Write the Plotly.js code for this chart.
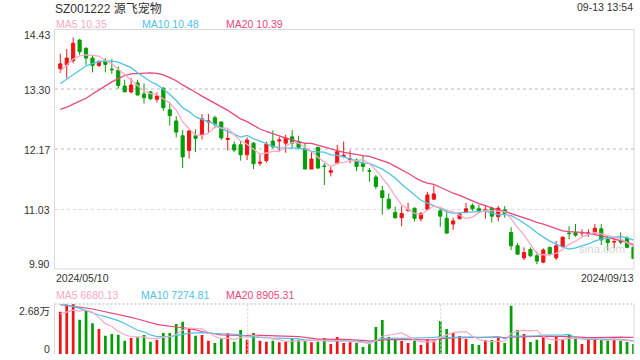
<!DOCTYPE html>
<html>
<head>
<meta charset="utf-8">
<script src="https://cdn.plot.ly/plotly-3.0.1.min.js"></script>
<style>
  html, body { margin: 0; padding: 0; background: #fff; }
  #chart { width: 640px; height: 360px; }
</style>
</head>
<body>
<div id="chart"></div>
<script>
// ---- data ----
const xLabels = ['2024/05/10', '2024/09/13'];
const yTickVals = [14.43, 13.30, 12.17, 11.03, 9.90];
const yTickText = ['14.43', '13.30', '12.17', '11.03', '9.90'];
const volTickText = ['2.68万', '0'];
const volMax = 26800;

const open = [13.69,13.76,13.84,14.23,14.07,13.89,13.75,13.84,13.68,13.66,
13.36,13.25,13.42,13.21,13.25,13.11,13.32,12.91,12.70,12.42,
12.14,12.42,12.44,12.68,12.76,12.68,12.35,12.25,12.25,12.06,
12.28,11.90,11.95,12.32,12.32,12.28,12.40,12.31,12.18,11.79,
12.20,11.85,11.73,11.90,12.03,11.97,11.96,11.90,11.76,11.64,
11.38,11.22,10.97,10.87,11.01,11.05,10.85,11.03,11.22,11.00,
10.86,10.75,10.85,10.97,11.10,11.04,11.01,11.05,10.89,11.02,
10.59,10.34,10.11,10.27,10.15,10.03,10.31,10.11,10.32,10.58,
10.59,10.58,10.57,10.58,10.66,10.46,10.41,10.42,10.48,10.31];

const high = [13.97,14.06,14.28,14.25,14.10,13.95,13.85,13.89,13.87,13.73,
13.48,13.51,13.48,13.41,13.27,13.24,13.34,13.06,12.79,12.53,
12.54,12.54,12.83,12.83,12.80,12.69,12.54,12.31,12.33,12.39,
12.30,12.08,12.31,12.52,12.40,12.44,12.53,12.42,12.29,12.11,
12.21,11.90,11.84,12.25,12.31,12.14,11.99,12.04,11.81,11.68,
11.47,11.33,11.08,11.09,11.15,11.06,10.98,11.36,11.48,11.05,
11.02,10.87,10.97,11.15,11.14,11.11,11.10,11.08,11.09,11.09,
10.69,10.39,10.31,10.31,10.23,10.29,10.32,10.43,10.52,10.71,
10.75,10.65,10.65,10.75,10.75,10.54,10.49,10.59,10.52,10.35];

const low = [13.61,13.51,13.79,13.95,13.76,13.62,13.72,13.62,13.59,13.31,
13.25,13.22,13.19,13.03,13.10,13.05,12.89,12.61,12.39,11.81,
11.99,12.11,12.35,12.48,12.56,12.34,12.14,12.11,11.95,11.96,
11.79,11.85,11.91,12.18,12.11,12.10,12.18,12.16,11.79,11.79,
11.79,11.49,11.65,11.88,12.01,11.90,11.75,11.74,11.55,11.41,
10.93,11.02,10.85,10.71,10.98,10.80,10.80,11.02,11.22,10.70,
10.56,10.64,10.84,10.95,11.00,10.95,10.85,10.78,10.80,10.87,
10.26,10.17,10.07,10.13,9.99,10.01,10.15,10.07,10.32,10.46,
10.51,10.52,10.51,10.56,10.35,10.25,10.29,10.37,10.29,10.09];

const close = [13.78,13.89,14.17,14.01,13.89,13.75,13.82,13.77,13.67,13.37,
13.25,13.38,13.19,13.14,13.12,13.17,12.95,12.80,12.49,12.02,
12.51,12.37,12.74,12.70,12.64,12.38,12.37,12.15,12.06,12.34,
11.89,11.92,12.26,12.21,12.34,12.38,12.28,12.20,11.79,11.98,
11.81,11.84,11.76,12.12,12.05,11.98,11.84,11.84,11.75,11.46,
11.25,11.05,10.87,10.95,11.02,10.86,10.95,11.30,11.32,10.90,
10.58,10.81,10.94,11.04,11.04,11.00,11.02,10.90,11.05,10.95,
10.34,10.18,10.21,10.15,10.05,10.26,10.18,10.34,10.50,10.57,
10.54,10.59,10.58,10.67,10.45,10.40,10.42,10.41,10.31,10.10];

const volume = [22691,26800,26800,18403,23227,16438,13400,9827,10720,10363,
7147,8576,8933,10184,6611,7683,11256,11256,16080,17331,
13757,9827,10184,7147,5896,8040,11077,6611,12864,7683,
11256,7147,6611,7147,6253,6611,8040,7683,7147,6253,
6611,8576,5360,9112,5896,6253,5896,3752,5360,14472,
18224,9112,7683,6968,5896,7147,4824,7683,7147,17688,
13400,11256,9648,8040,5360,4824,7325,7504,8576,5896,
25907,12864,10720,6432,7683,8933,5360,9469,7683,10363,
8933,5360,7683,8576,7683,7147,7683,7147,6432,5360];

// moving-average values before enough in-window history exists
const ma5Head  = [13.64,13.76,13.87,13.93];
const ma10Head = [13.41,13.49,13.57,13.66,13.74,13.79,13.82,13.83,13.83];
const ma20Head = [12.92,12.96,13.02,13.08,13.13,13.21,13.29,13.36,13.44,13.50,
                  13.56,13.59,13.60,13.61,13.61,13.60,13.57,13.52,13.46];
const vma5Head  = [21500,22500,23500,23000];
const vma10Head = [26800,26264,25550,24478,23227,21976,20904,20011,19118];
const vma20Head = [26443,26086,25550,25192,24656,24120,23406,22870,22155,21440,
                   20726,19654,18760,17688,16795,15902,15366,14830,14472];

// ---- helpers ----
function sma(arr, n, head) {
  return arr.map((v, i) => {
    if (i < n - 1) return head[i];
    let s = 0;
    for (let k = i - n + 1; k <= i; k++) s += arr[k];
    return s / n;
  });
}
const idx = close.map((_, i) => i);
const UP = '#f01414', DOWN = '#069e06';
const C5 = '#f7a9c7', C10 = '#4ec3e8', C20 = '#e9467d';
const FONT = 'Liberation Sans, Arial, Noto Sans CJK SC, sans-serif';

const ma5 = sma(close, 5, ma5Head), ma10 = sma(close, 10, ma10Head), ma20 = sma(close, 20, ma20Head);
const vma5 = sma(volume, 5, vma5Head), vma10 = sma(volume, 10, vma10Head), vma20 = sma(volume, 20, vma20Head);
const volColors = close.map((c, i) => c >= open[i] ? UP : DOWN);

const traces = [
  {type: 'candlestick', x: idx, open: open, high: high, low: low, close: close,
   increasing: {line: {color: UP, width: 1}, fillcolor: UP},
   decreasing: {line: {color: DOWN, width: 1}, fillcolor: DOWN},
   whiskerwidth: 0, xaxis: 'x', yaxis: 'y', hoverinfo: 'skip'},
  {type: 'scatter', mode: 'lines', x: idx, y: ma20, line: {color: C20, width: 1.3}, xaxis: 'x', yaxis: 'y', hoverinfo: 'skip'},
  {type: 'scatter', mode: 'lines', x: idx, y: ma10, line: {color: C10, width: 1.3}, xaxis: 'x', yaxis: 'y', hoverinfo: 'skip'},
  {type: 'scatter', mode: 'lines', x: idx, y: ma5, line: {color: C5, width: 1.3}, xaxis: 'x', yaxis: 'y', hoverinfo: 'skip'},
  {type: 'bar', x: idx, y: volume, width: 0.42, marker: {color: volColors, line: {width: 0}}, xaxis: 'x2', yaxis: 'y2', hoverinfo: 'skip'},
  {type: 'scatter', mode: 'lines', x: idx, y: vma20, line: {color: C20, width: 1.2}, xaxis: 'x2', yaxis: 'y2', hoverinfo: 'skip'},
  {type: 'scatter', mode: 'lines', x: idx, y: vma10, line: {color: C10, width: 1.2}, xaxis: 'x2', yaxis: 'y2', hoverinfo: 'skip'},
  {type: 'scatter', mode: 'lines', x: idx, y: vma5, line: {color: C5, width: 1.2}, xaxis: 'x2', yaxis: 'y2', hoverinfo: 'skip'}
];

const PX = v => v / 640, PY = v => 1 - v / 360;
const xd = [PX(54.5), PX(634)];
const xr = [-0.9, 89.08];

function ann(text, x, y, xanchor, color, size) {
  return {text: text, x: PX(x), y: PY(y), xref: 'paper', yref: 'paper', xanchor: xanchor, yanchor: 'middle',
          showarrow: false, font: {family: FONT, size: size, color: color}, borderpad: 0};
}

const annotations = [
  ann('SZ001222 源飞宠物', 54, 8.5, 'left', '#333', 12),
  ann('09-13 13:54', 634, 6.5, 'right', '#333', 10.5),
  ann('MA5 10.35', 54.5, 24, 'left', C5, 10.5),
  ann('MA10 10.48', 140.5, 24, 'left', C10, 10.5),
  ann('MA20 10.39', 225, 24, 'left', C20, 10.5),
  ann(yTickText[0], 50.5, 35.3, 'right', '#333', 10.5),
  ann(yTickText[1], 50.5, 89.5, 'right', '#333', 10.5),
  ann(yTickText[2], 50.5, 149.5, 'right', '#333', 10.5),
  ann(yTickText[3], 50.5, 209.5, 'right', '#333', 10.5),
  ann(yTickText[4], 50.5, 263.5, 'right', '#333', 10.5),
  ann(xLabels[0], 54.5, 278, 'left', '#333', 10.5),
  ann(xLabels[1], 634.5, 278, 'right', '#333', 10.5),
  ann('MA5 6680.13', 54.5, 294.5, 'left', C5, 10.5),
  ann('MA10 7274.81', 140, 294.5, 'left', C10, 10.5),
  ann('MA20 8905.31', 225, 294.5, 'left', C20, 10.5),
  ann(volTickText[0], 50.5, 311, 'right', '#333', 10.5),
  ann(volTickText[1], 50.5, 349, 'right', '#333', 10.5),
  ann('sina.com', 602, 249, 'center', '#d6d6d6', 11.5)
];

const grey = '#d9d9d9';
const shapes = [
  {type: 'rect', xref: 'paper', yref: 'paper', x0: xd[0], x1: xd[1], y0: PY(269), y1: PY(29.5), line: {color: grey, width: 1}},
  {type: 'line', xref: 'paper', yref: 'paper', x0: xd[0], x1: xd[0], y0: PY(354.5), y1: PY(304), line: {color: grey, width: 1}},
  {type: 'line', xref: 'paper', yref: 'paper', x0: xd[1], x1: xd[1], y0: PY(354.5), y1: PY(304), line: {color: grey, width: 1}},
  {type: 'line', xref: 'paper', yref: 'paper', x0: xd[0], x1: xd[1], y0: PY(304), y1: PY(304), line: {color: '#cfcfcf', width: 1.3, dash: '2px,2px'}},
  {type: 'line', xref: 'paper', yref: 'paper', x0: PX(247.7), x1: PX(247.7), y0: PY(354.5), y1: PY(304), line: {color: '#cfcfcf', width: 1, dash: '2px,2px'}},
  {type: 'line', xref: 'paper', yref: 'paper', x0: PX(440.7), x1: PX(440.7), y0: PY(354.5), y1: PY(304), line: {color: '#cfcfcf', width: 1, dash: '2px,2px'}}
];

const layout = {
  width: 640, height: 360,
  margin: {l: 0, r: 0, t: 0, b: 0},
  paper_bgcolor: '#fff', plot_bgcolor: 'rgba(0,0,0,0)',
  showlegend: false,
  xaxis: {domain: xd, range: xr, anchor: 'y', showgrid: false, zeroline: false, showticklabels: false,
          showline: false, ticks: '', rangeslider: {visible: false}, fixedrange: true},
  yaxis: {domain: [PY(269), PY(29.5)], range: [yTickVals[4], yTickVals[0]], anchor: 'x',
          tickvals: yTickVals.slice(1, 4), showticklabels: false, ticks: '',
          showgrid: true, gridcolor: '#dcdcdc', gridwidth: 1.5, griddash: '3px,3px',
          zeroline: false, showline: false, fixedrange: true},
  xaxis2: {domain: xd, range: xr, anchor: 'y2', showgrid: false, zeroline: false, showticklabels: false,
           showline: false, ticks: '', fixedrange: true},
  yaxis2: {domain: [PY(354), PY(304)], range: [0, volMax], anchor: 'x2', showgrid: false, zeroline: false,
           showticklabels: false, ticks: '', showline: false, fixedrange: true},
  annotations: annotations,
  shapes: shapes,
  font: {family: FONT}
};

Plotly.newPlot('chart', traces, layout, {displayModeBar: false, staticPlot: true});
</script>
</body>
</html>
